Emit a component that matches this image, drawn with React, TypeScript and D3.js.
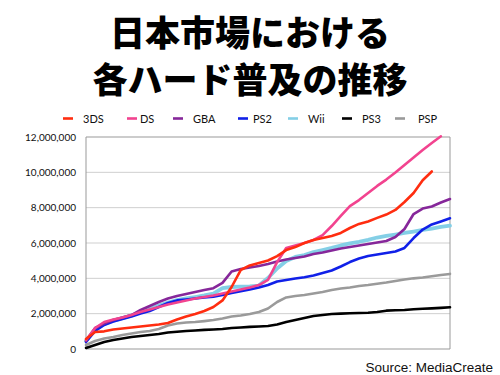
import React from "react";
import * as d3 from "d3";

const titleLines = ["日本市場における", "各ハード普及の推移"];
const sourceText = "Source: MediaCreate";
const yTicks = [0, 2000000, 4000000, 6000000, 8000000, 10000000, 12000000];
const seriesNames = ["3DS", "DS", "GBA", "PS2", "Wii", "PS3", "PSP"];
const seriesColors = ["#ff2d10", "#f2438f", "#86279a", "#1020e8", "#84cfe6", "#000000", "#9a9a9a"];

// values in millions, sampled at 41 evenly spaced steps along the time axis
const ds3 = [0.57, 0.96, 1.0, 1.1, 1.16, 1.22, 1.27, 1.33, 1.39, 1.47, 1.67, 1.84, 1.98, 2.15, 2.38, 2.75, 3.51, 4.47, 4.73, 4.87, 5.01, 5.26, 5.6, 5.77, 6.0, 6.17, 6.28, 6.4, 6.57, 6.85, 7.08, 7.22, 7.42, 7.61, 7.87, 8.32, 8.83, 9.55, 10.05, null, null];
const ds = [0.51, 1.19, 1.53, 1.67, 1.78, 1.92, 2.09, 2.24, 2.38, 2.52, 2.63, 2.75, 2.86, 2.94, 3.03, 3.14, 3.25, 3.37, 3.48, 3.62, 3.91, 4.92, 5.72, 5.86, 6.0, 6.17, 6.45, 6.96, 7.53, 8.09, 8.43, 8.83, 9.23, 9.59, 9.99, 10.42, 10.84, 11.26, 11.66, 12.04, null];
const gba = [0.45, 1.19, 1.44, 1.64, 1.78, 1.92, 2.21, 2.43, 2.66, 2.86, 3.0, 3.11, 3.23, 3.34, 3.44, 3.74, 4.39, 4.53, 4.61, 4.7, 4.81, 4.95, 5.07, 5.15, 5.24, 5.38, 5.46, 5.58, 5.69, 5.77, 5.86, 5.94, 6.03, 6.11, 6.34, 6.79, 7.64, 7.95, 8.07, 8.29, 8.49];
const ps2 = [0.4, 1.02, 1.36, 1.55, 1.7, 1.84, 2.01, 2.15, 2.38, 2.6, 2.75, 2.8, 2.86, 2.92, 2.96, 3.06, 3.17, 3.27, 3.37, 3.48, 3.62, 3.82, 3.91, 3.99, 4.06, 4.16, 4.3, 4.44, 4.67, 4.92, 5.12, 5.26, 5.35, 5.43, 5.52, 5.72, 6.28, 6.76, 7.05, 7.22, 7.4];
const wii = [0.45, 1.08, 1.42, 1.61, 1.75, 1.9, 2.09, 2.26, 2.46, 2.63, 2.77, 2.86, 2.94, 3.03, 3.14, 3.45, 3.51, 3.53, 3.55, 3.59, 4.02, 4.56, 4.98, 5.21, 5.32, 5.49, 5.6, 5.72, 5.86, 5.98, 6.07, 6.18, 6.31, 6.4, 6.48, 6.57, 6.65, 6.74, 6.82, 6.91, 6.98];
const ps3 = [0.06, 0.23, 0.4, 0.51, 0.59, 0.68, 0.74, 0.79, 0.85, 0.93, 0.98, 1.02, 1.05, 1.08, 1.1, 1.13, 1.19, 1.22, 1.25, 1.27, 1.3, 1.39, 1.53, 1.64, 1.75, 1.87, 1.92, 1.98, 2.0, 2.02, 2.04, 2.05, 2.09, 2.17, 2.19, 2.21, 2.25, 2.28, 2.3, 2.33, 2.36];
const psp = [0.23, 0.45, 0.59, 0.68, 0.79, 0.88, 0.96, 1.02, 1.13, 1.33, 1.44, 1.5, 1.53, 1.58, 1.64, 1.73, 1.84, 1.9, 1.98, 2.09, 2.29, 2.66, 2.92, 3.0, 3.06, 3.14, 3.23, 3.34, 3.42, 3.48, 3.57, 3.62, 3.69, 3.76, 3.85, 3.93, 4.0, 4.05, 4.12, 4.19, 4.25];

const seriesValues = [ds3, ds, gba, ps2, wii, ps3, psp];
const seriesWidths = [2.6, 2.6, 2.6, 2.6, 3.8, 2.6, 2.6];
const drawOrder = [6, 5, 4, 3, 2, 1, 0];

export default function App() {
  const W = 500, H = 375;
  const left = 86, right = 450, top = 137, bottom = 349;
  const x = d3.scaleLinear().domain([0, 40]).range([left, right]);
  const y = d3.scaleLinear().domain([0, 12000000]).range([bottom, top]);
  const line = d3
    .line<number | null>()
    .defined((d) => d !== null)
    .x((_, i) => x(i))
    .y((d) => y((d as number) * 1e6));
  const fmt = d3.format(",");
  const legendX = [63, 127, 173, 238, 288, 342, 395];
  const legendTextX = [83, 140, 193, 253, 308, 362, 418];

  return (
    <svg width={W} height={H} style={{ position: "absolute", left: 0, top: 0, background: "#fff" }}>
      <rect x={0} y={0} width={W} height={H} fill="#fff" />
      {titleLines.map((t, i) => (
        <text
          key={t}
          x={250}
          y={46 + i * 47}
          textAnchor="middle"
          fontFamily="'Noto Sans CJK JP', sans-serif"
          fontWeight={900}
          fontSize={35}
          fill="#000"
        >
          {t}
        </text>
      ))}
      {seriesNames.map((n, i) => (
        <g key={n}>
          <line x1={legendX[i]} x2={legendX[i] + 10} y1={118.5} y2={118.5} stroke={seriesColors[i]} strokeWidth={2.6} />
          <text x={legendTextX[i]} y={122.5} fontFamily="Lato, sans-serif" fontSize={11} fill="#111">
            {n}
          </text>
        </g>
      ))}
      {yTicks.map((t) => (
        <g key={t}>
          <line x1={left} x2={right} y1={y(t)} y2={y(t)} stroke={t === 0 || t === 12000000 ? "#999" : "#cfcfcf"} strokeWidth={1} />
          <text x={76} y={y(t) + 3.5} textAnchor="end" fontFamily="Lato, sans-serif" fontSize={10} fill="#111">
            {fmt(t)}
          </text>
        </g>
      ))}
      <line x1={left} x2={left} y1={top} y2={bottom} stroke="#999" />
      <line x1={right} x2={right} y1={top} y2={bottom} stroke="#999" />
      {drawOrder.map((i) => (
        <path
          key={seriesNames[i]}
          d={line(seriesValues[i]) || ""}
          fill="none"
          stroke={seriesColors[i]}
          strokeWidth={seriesWidths[i]}
          strokeLinejoin="round"
          strokeLinecap="round"
        />
      ))}
      <text x={493} y={372} textAnchor="end" fontFamily="'Liberation Sans', Arial, sans-serif" fontSize={13.5} fill="#111">
        {sourceText}
      </text>
    </svg>
  );
}
